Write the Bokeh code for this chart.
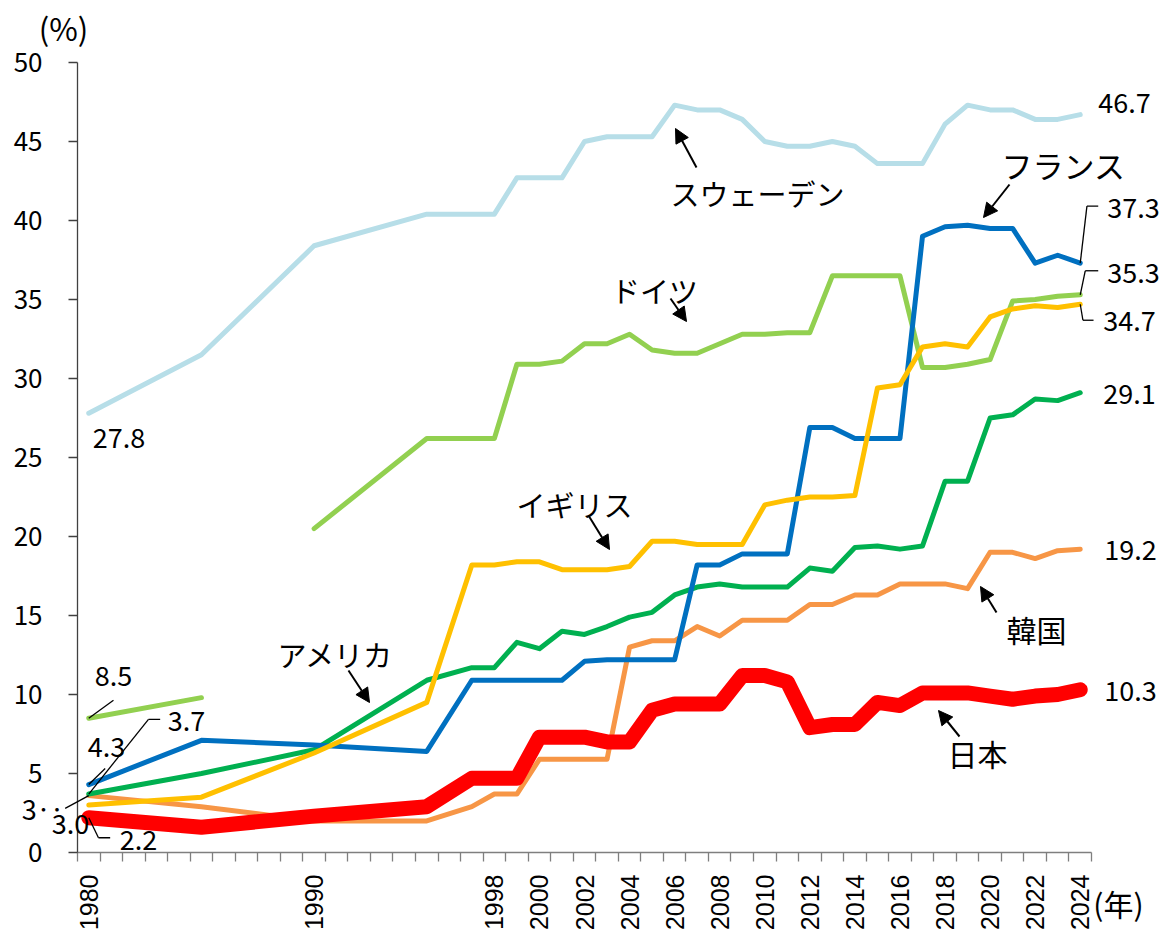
import math
from bokeh.plotting import figure
from bokeh.models import Range1d, FixedTicker, Label, Arrow, NormalHead
from bokeh.embed import file_html
from bokeh.resources import INLINE

# ---- data: share of women in national parliaments (%) ----
years = [1980, 1985, 1990, 1995, 1997, 1998, 1999, 2000, 2001, 2002, 2003,
         2004, 2005, 2006, 2007, 2008, 2009, 2010, 2011, 2012, 2013, 2014,
         2015, 2016, 2017, 2018, 2019, 2020, 2021, 2022, 2023, 2024]

sweden = [27.8, 31.5, 38.4, 40.4, 40.4, 40.4, 42.7, 42.7, 42.7, 45.0, 45.3,
          45.3, 45.3, 47.3, 47.0, 47.0, 46.4, 45.0, 44.7, 44.7, 45.0, 44.7,
          43.6, 43.6, 43.6, 46.1, 47.3, 47.0, 47.0, 46.4, 46.4, 46.7]
germany = [8.5, 9.8, 20.5, 26.2, 26.2, 26.2, 30.9, 30.9, 31.1, 32.2, 32.2,
           32.8, 31.8, 31.6, 31.6, 32.2, 32.8, 32.8, 32.9, 32.9, 36.5, 36.5,
           36.5, 36.5, 30.7, 30.7, 30.9, 31.2, 34.9, 35.0, 35.2, 35.3]
france = [4.3, 7.1, 6.8, 6.4, 10.9, 10.9, 10.9, 10.9, 10.9, 12.1, 12.2,
          12.2, 12.2, 12.2, 18.2, 18.2, 18.9, 18.9, 18.9, 26.9, 26.9, 26.2,
          26.2, 26.2, 39.0, 39.6, 39.7, 39.5, 39.5, 37.3, 37.8, 37.3]
uk = [3.0, 3.5, 6.3, 9.5, 18.2, 18.2, 18.4, 18.4, 17.9, 17.9, 17.9,
      18.1, 19.7, 19.7, 19.5, 19.5, 19.5, 22.0, 22.3, 22.5, 22.5, 22.6,
      29.4, 29.6, 32.0, 32.2, 32.0, 33.9, 34.4, 34.6, 34.5, 34.7]
usa = [3.7, 5.0, 6.5, 10.9, 11.7, 11.7, 13.3, 12.9, 14.0, 13.8, 14.3,
       14.9, 15.2, 16.3, 16.8, 17.0, 16.8, 16.8, 16.8, 18.0, 17.8, 19.3,
       19.4, 19.2, 19.4, 23.5, 23.5, 27.5, 27.7, 28.7, 28.6, 29.1]
korea = [3.6, 2.9, 2.0, 2.0, 2.9, 3.7, 3.7, 5.9, 5.9, 5.9, 5.9,
         13.0, 13.4, 13.4, 14.3, 13.7, 14.7, 14.7, 14.7, 15.7, 15.7, 16.3,
         16.3, 17.0, 17.0, 17.0, 16.7, 19.0, 19.0, 18.6, 19.1, 19.2]
japan = [2.2, 1.6, 2.3, 2.9, 4.7, 4.7, 4.7, 7.3, 7.3, 7.3, 7.0,
         7.0, 9.0, 9.4, 9.4, 9.4, 11.2, 11.2, 10.8, 7.9, 8.1, 8.1,
         9.5, 9.3, 10.1, 10.1, 10.1, 9.9, 9.7, 9.9, 10.0, 10.3]

# West Germany series ends in 1985; the unified series starts in 1990
germany_split = 2

label_years = [1980, 1990, 1998, 2000, 2002, 2004, 2006, 2008, 2010, 2012,
               2014, 2016, 2018, 2020, 2022, 2024]
y_ticks = [0, 5, 10, 15, 20, 25, 30, 35, 40, 45, 50]

# ---- layout: the frame fills the canvas, axes sit at fixed locations ----
W, H = 1163, 932
LEFT, TOP, RIGHT, BOTTOM = 77, 62, 72, 80
X0, X1 = 1979.5, 2024.5
Y0, Y1 = 0, 50
PX_X = (W - LEFT - RIGHT) / (X1 - X0)
PX_Y = (H - TOP - BOTTOM) / (Y1 - Y0)

JP = "Noto Sans CJK JP"


def at_px(px, py):
    """canvas pixel -> data coordinates"""
    return X0 + (px - LEFT) / PX_X, Y1 - (py - TOP) / PX_Y


def shift(x, y, dx, dy):
    """move a data point by a pixel offset (dy positive = down)"""
    return x + dx / PX_X, y - dy / PX_Y


xr = Range1d(X0 - LEFT / PX_X, X1 + RIGHT / PX_X)
yr = Range1d(Y0 - BOTTOM / PX_Y, Y1 + TOP / PX_Y)
p = figure(width=W, height=H, x_range=xr, y_range=yr,
           output_backend="svg", toolbar_location=None, min_border=0)
p.outline_line_color = None
p.grid.visible = False

# x axis: ticks on year boundaries, labels on selected years
boundaries = [X0 + i for i in range(int(X1 - X0) + 1)]
xa = p.xaxis[0]
xa.fixed_location = Y0
xa.bounds = (X0, X1)
xa.ticker = FixedTicker(ticks=label_years, minor_ticks=boundaries)
xa.major_tick_out = 0
xa.major_tick_in = 0
xa.minor_tick_out = 9
xa.minor_tick_in = 0
xa.minor_tick_line_color = "#7f7f7f"
xa.minor_tick_line_width = 1.3
xa.axis_line_color = "#7f7f7f"
xa.axis_line_width = 1.3
xa.major_label_orientation = math.pi / 2
xa.major_label_standoff = 13
xa.major_label_text_font = "Liberation Sans"
xa.major_label_text_font_size = "25px"
xa.major_label_text_color = "black"

ya = p.yaxis[0]
ya.fixed_location = X0
ya.bounds = (Y0, Y1)
ya.ticker = FixedTicker(ticks=y_ticks)
ya.major_tick_out = 9
ya.major_tick_in = 0
ya.minor_tick_out = 0
ya.minor_tick_in = 0
ya.axis_line_color = "#404040"
ya.major_tick_line_color = "#404040"
ya.axis_line_width = 1.3
ya.major_tick_line_width = 1.3
ya.major_label_standoff = 26
ya.major_label_text_font = JP
ya.major_label_text_font_size = "26px"
ya.major_label_text_color = "black"

# ---- series lines ----
series = [
    ("sweden", sweden, "#B7DEE8", 5),
    ("korea", korea, "#F79646", 5),
    ("usa", usa, "#00B050", 5),
    ("france", france, "#0070C0", 5),
    ("uk", uk, "#FFC000", 5),
    ("japan", japan, "#FF0000", 15),
]
p.line(years[:germany_split], germany[:germany_split], line_color="#92D050",
       line_width=5, line_cap="round", line_join="round")
p.line(years[germany_split:], germany[germany_split:], line_color="#92D050",
       line_width=5, line_cap="round", line_join="round")
for name, vals, col, lw in series:
    p.line(years, vals, line_color=col, line_width=lw,
           line_cap="round", line_join="round")


# ---- value labels with leader lines ----
def leader(points):
    for (xa_, ya_), (xb_, yb_) in zip(points[:-1], points[1:]):
        p.add_layout(Arrow(end=None, x_start=xa_, y_start=ya_, x_end=xb_, y_end=yb_,
                           line_color="black", line_width=1.3))


def value_label(vals, idx, dx, dy, lead=None, text=None):
    x, y = years[idx], vals[idx]
    tx, ty = shift(x, y, dx, dy)
    p.add_layout(Label(x=tx, y=ty, text=text if text else f"{vals[idx]:.1f}",
                       text_font=JP, text_font_size="27px", text_color="black",
                       text_align="left", text_baseline="middle"))
    if lead:
        leader([(x, y)] + [shift(x, y, ddx, ddy) for ddx, ddy in lead])


last = len(years) - 1
value_label(sweden, last, 18, -12)
value_label(france, last, 27, -55, lead=[(6.7, -57), (18, -57)])
value_label(germany, last, 27, -22, lead=[(5, -24), (18, -24)])
value_label(uk, last, 23, 17, lead=[(2.7, 16), (13.3, 16)])
value_label(usa, last, 23, 1)
value_label(korea, last, 24, 1)
value_label(japan, last, 24, 1)

value_label(sweden, 0, 4, 25)
value_label(germany, 0, 6, -42, lead=[(24.7, -18)])
value_label(france, 0, -1, -38, lead=[(16.4, -16)])
value_label(usa, 0, 79, -73, lead=[(59.7, -74.7), (71.4, -74.7)])
# Korea's 1980 value is shown truncated
value_label(korea, 0, -67, 12.4, lead=[(-23.6, 12.7)], text="3‥")
value_label(uk, 0, -37, 19)
value_label(japan, 0, 31, 22, lead=[(9.7, 20), (21.4, 20)])

# ---- country names with pointer arrows ----
names = [
    ("スウェーデン", (757, 192), (696, 167), (675, 128), "29px"),
    ("ドイツ", (654, 289), (670, 298), (686, 321), "29px"),
    ("フランス", (1063, 164), (1009, 184), (983, 217), "31px"),
    ("イギリス", (574, 503), (588, 515), (609, 549), "29px"),
    ("アメリカ", (335, 653), (348, 670), (369, 702), "29px"),
    ("韓国", (1036, 628), (996, 612), (980, 586), "30px"),
    ("日本", (977, 752), (959, 736), (938, 710), "30px"),
]
for text, c, a0, a1, fs in names:
    cx, cy = at_px(*c)
    p.add_layout(Label(x=cx, y=cy, text=text, text_font=JP, text_font_size=fs,
                       text_color="black", text_align="center", text_baseline="middle"))
    sx, sy = at_px(*a0)
    ex, ey = at_px(*a1)
    p.add_layout(Arrow(end=NormalHead(size=14, fill_color="black", line_color="black",
                                      line_width=1),
                       x_start=sx, y_start=sy, x_end=ex, y_end=ey,
                       line_color="black", line_width=2))

# ---- unit labels ----
ux, uy = at_px(63, 27)
p.add_layout(Label(x=ux, y=uy, text="(%)", text_font=JP, text_font_size="31px",
                   text_color="black", text_align="center", text_baseline="middle"))
nx, ny = at_px(1118, 902)
p.add_layout(Label(x=nx, y=ny, text="(年)", text_font=JP, text_font_size="30px",
                   text_color="black", text_align="center", text_baseline="middle"))

open("out.html", "w").write(file_html(p, INLINE))
